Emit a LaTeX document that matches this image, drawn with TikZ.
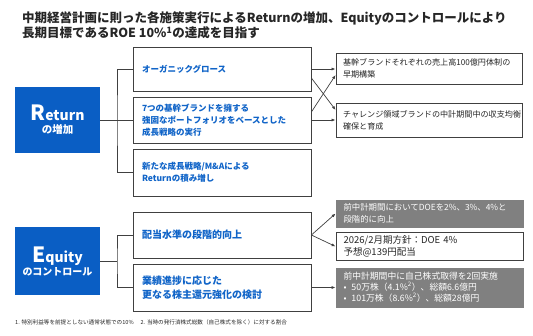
\documentclass[tikz,border=0pt]{standalone}
\usepackage{fontspec}
\setmainfont{Noto Sans CJK JP}
\usetikzlibrary{arrows.meta}
\definecolor{rblue}{RGB}{10,94,196}
\definecolor{tblue}{RGB}{16,100,200}
\definecolor{bord}{RGB}{64,64,64}
\definecolor{gfill}{RGB}{128,128,128}
\definecolor{ttl}{RGB}{38,38,38}
\begin{document}
\begin{tikzpicture}[x=1pt,y=-1pt,
 keybox/.style={fill=rblue, text=white, minimum width=85pt, align=center, inner sep=0pt, font=\bfseries},
 midbox/.style={draw=bord, line width=0.8pt, fill=white, minimum width=178pt, text width=160pt, inner xsep=9pt, align=left, text=tblue, font=\bfseries\fontsize{8.5}{12}\selectfont},
 eqbox/.style={midbox, font=\bfseries\fontsize{10}{13.5}\selectfont},
 rbox/.style={draw=bord, line width=0.8pt, fill=white, minimum width=186pt, text width=172pt, inner xsep=7pt, align=left, text=ttl, font=\fontsize{8.1}{12}\selectfont},
 gbox/.style={rbox, fill=gfill, draw=gfill, text=white},
 conn/.style={draw=bord, line width=0.7pt},
 arr/.style={conn, -{Latex[length=4pt,width=3pt]}}
]
\useasboundingbox (0,0) rectangle (533,335);

% title
\node[anchor=west, font=\bfseries\fontsize{12.5}{15}\selectfont, text=ttl, align=left, inner sep=0pt] (title) at (22,25.5)
 {中期経営計画に則った各施策実行によるReturnの増加、Equityのコントロールにより\\長期目標であるROE 10\%\textsuperscript{1}の達成を目指す};

% Return side
\node[keybox, minimum height=66pt] (ret) at (57.5,120)
 {{\fontsize{21}{21}\selectfont R}{\fontsize{14}{14}\selectfont eturn}\\[1pt]{\fontsize{10.5}{12}\selectfont の増加}};
\node[midbox, minimum height=44pt] (b1) at (222,69) {オーガニックグロース};
\node[midbox, minimum height=46pt] (b2) at (222,120) {7つの基幹ブランドを擁する\\強固なポートフォリオをベースとした\\成長戦略の実行};
\node[midbox, minimum height=47pt] (b3) at (222,172.5) {新たな成長戦略/M\&Aによる\\Returnの積み増し};

\node[rbox, minimum height=31pt] (ra) at (429,68.5) {基幹ブランドそれぞれの売上高100億円体制の\\早期構築};
\node[rbox, minimum height=34pt] (rb) at (429,120) {チャレンジ領域ブランドの中計期間中の収支均衡\\確保と育成};

\coordinate (rj) at (117,120);
\draw[conn] (ret.east) -- (rj);
\draw[conn] (b1.west) -| (rj) |- (b3.west);
\draw[conn] (rj) -- (b2.west);

\draw[arr] (b1.east) -- (b1.east -| ra.west);
\draw[arr] (b2.east) -- (b2.east -| rb.west);
\draw[arr] ([yshift=-9pt]b1.east) -- ([yshift=10pt]rb.west);
\draw[arr] ([yshift=8pt]b2.east) -- ([yshift=-6.5pt]ra.west);

% Equity side
\node[keybox, minimum height=68pt] (equ) at (57.5,261)
 {{\fontsize{21}{21}\selectfont E}{\fontsize{14}{14}\selectfont quity}\\[1pt]{\fontsize{10}{12}\selectfont のコントロール}};
\node[eqbox, minimum height=46pt] (b4) at (222,235) {配当水準の段階的向上};
\node[eqbox, minimum height=47pt] (b5) at (222,287.5) {業績進捗に応じた\\更なる株主還元強化の検討};

\node[gbox, minimum width=187pt, minimum height=27pt, font=\fontsize{8.4}{12}\selectfont] (rc) at (429.5,213.5) {前中計期間においてDOEを2\%、3\%、4\%と\\段階的に向上};
\node[rbox, minimum width=187pt, minimum height=27pt, font=\fontsize{9.5}{12}\selectfont] (rd) at (429.5,246.5) {2026/2月期方針：DOE 4\%\\予想@139円配当};
\node[gbox, minimum width=187pt, minimum height=39pt, font=\fontsize{8.8}{11}\selectfont] (re) at (429.5,287.5)
 {前中計期間中に自己株式取得を2回実施\\•\hspace{5pt}50万株（4.1\%\textsuperscript{2}）、総額6.6億円\\•\hspace{5pt}101万株（8.6\%\textsuperscript{2}）、総額28億円};

\coordinate (ej) at (117,261);
\draw[conn] (equ.east) -- (ej);
\draw[conn] (b4.west) -| (ej) |- (b5.west);

\draw[arr] (b4.east) -- (rc.west);
\draw[arr] (b4.east) -- (rd.west);
\draw[arr] (b5.east) -- (re.west);

% footnote
\node[anchor=west, font=\fontsize{5.6}{6}\selectfont, text=ttl, inner sep=0pt] (fn) at (15,322)
 {1. 特別利益等を前提としない通常状態での10\%\hspace{7pt}2. 当時の発行済株式総数（自己株式を除く）に対する割合};
\end{tikzpicture}
\end{document}
